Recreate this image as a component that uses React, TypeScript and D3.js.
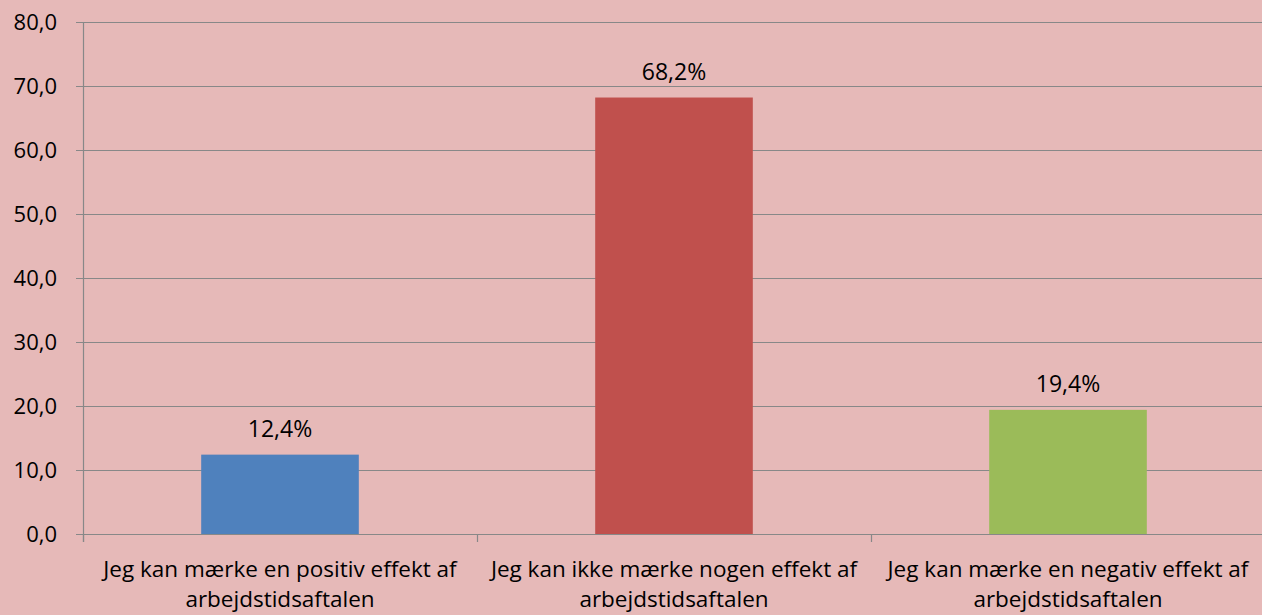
import { useEffect, useRef } from 'react';
import * as d3 from 'd3';

const categories = [
  ['Jeg kan mærke en positiv effekt af', 'arbejdstidsaftalen'],
  ['Jeg kan ikke mærke nogen effekt af', 'arbejdstidsaftalen'],
  ['Jeg kan mærke en negativ effekt af', 'arbejdstidsaftalen'],
];
const values = [12.4, 68.2, 19.4];
const valueLabels = ['12,4%', '68,2%', '19,4%'];
const barColors = ['#4F81BD', '#C0504D', '#9BBB59'];
const yTicks = [0, 10, 20, 30, 40, 50, 60, 70, 80];

const W = 1262;
const H = 615;

const Chart = () => {
  const svgRef = useRef<SVGSVGElement>(null);

  useEffect(() => {
    if (!svgRef.current) return;
    const svg = d3.select(svgRef.current);
    svg.selectAll('*').remove();

    const left = 83;
    const right = 1265;
    const top = 22;
    const bottom = 534;
    const font = '"Open Sans", "Noto Sans", sans-serif';

    svg.append('rect').attr('width', W).attr('height', H).attr('fill', '#E6B9B8');

    const x = d3.scaleBand<number>()
      .domain(d3.range(categories.length))
      .range([left, right])
      .paddingInner(0)
      .paddingOuter(0);

    const y = d3.scaleLinear().domain([0, 80]).range([bottom, top]);

    // gridlines + y labels
    const g = svg.append('g');
    yTicks.forEach(t => {
      g.append('line')
        .attr('x1', left - 7).attr('x2', right)
        .attr('y1', y(t) + 0.5).attr('y2', y(t) + 0.5)
        .attr('stroke', '#888').attr('stroke-width', 1.2);
      g.append('text')
        .attr('x', left - 26).attr('y', y(t) + 8)
        .attr('text-anchor', 'end')
        .attr('font-family', font).attr('font-size', 22)
        .attr('fill', '#000')
        .text(d3.format('.1f')(t).replace('.', ','));
    });

    // y axis line
    g.append('line')
      .attr('x1', left + 0.5).attr('x2', left + 0.5)
      .attr('y1', top).attr('y2', bottom + 8)
      .attr('stroke', '#888').attr('stroke-width', 1.2);

    // x ticks
    d3.range(categories.length + 1).forEach(i => {
      const xx = left + i * x.bandwidth();
      g.append('line')
        .attr('x1', xx + 0.5).attr('x2', xx + 0.5)
        .attr('y1', bottom).attr('y2', bottom + 8)
        .attr('stroke', '#888').attr('stroke-width', 1.2);
    });

    // bars
    const bw = x.bandwidth() * 0.4;
    values.forEach((v, i) => {
      const cx = x(i)! + x.bandwidth() / 2;
      svg.append('rect')
        .attr('x', cx - bw / 2)
        .attr('y', y(v))
        .attr('width', bw)
        .attr('height', y(0) - y(v))
        .attr('fill', barColors[i]);
      svg.append('text')
        .attr('x', cx).attr('y', y(v) - 18)
        .attr('text-anchor', 'middle')
        .attr('font-family', font).attr('font-size', 23)
        .attr('fill', '#000')
        .text(valueLabels[i]);
      categories[i].forEach((line, j) => {
        svg.append('text')
          .attr('x', cx).attr('y', 577 + j * 30)
          .attr('text-anchor', 'middle')
          .attr('font-family', font).attr('font-size', 22.5)
          .attr('fill', '#000')
          .text(line);
      });
    });
  }, []);

  return <svg ref={svgRef} width={W} height={H} style={{ display: 'block' }} />;
};

const App = () => (
  <div style={{ position: 'absolute', left: 0, top: 0 }}>
    <Chart />
  </div>
);

export default App;
